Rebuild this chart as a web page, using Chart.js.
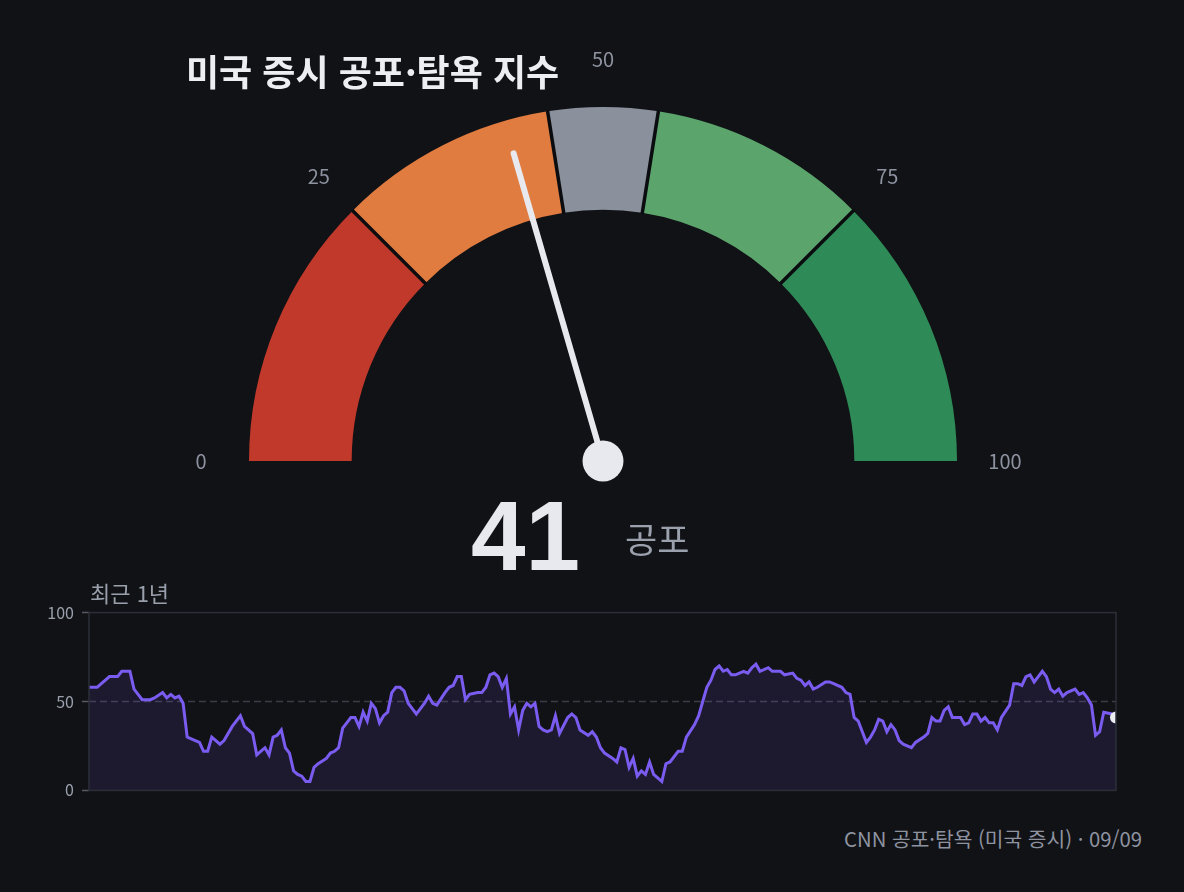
<!DOCTYPE html>
<html lang="ko">
<head>
<meta charset="utf-8">
<title>미국 증시 공포·탐욕 지수</title>
<script src="https://cdn.jsdelivr.net/npm/chart.js"></script>
<style>
  html, body { margin: 0; padding: 0; background: #111216; }
  body { width: 1184px; height: 892px; position: relative; overflow: hidden;
         font-family: "Noto Sans CJK KR", "Noto Sans", sans-serif; }
  .abs { position: absolute; white-space: nowrap; }
  #title { left: 186px; top: 50px; font-size: 36px; font-weight: 700; color: #eceef2; line-height: 40px; }
  #score { left: 471px; top: 487px; font-family: "Liberation Sans", Arial, sans-serif; font-size: 98px; font-weight: 700; color: #e8e9ee; line-height: 98px; }
  #mood { left: 625px; top: 519px; font-size: 35px; color: #9aa0ac; line-height: 38px; }
  #recent { left: 90px; top: 578px; font-size: 22px; color: #9aa0ab; line-height: 28px; }
  #source { right: 42px; top: 825px; font-size: 20.3px; color: #8e93a0; line-height: 26px; }
  #gaugeBox { left: 183px; top: 40px; width: 840px; height: 460px; }
  #historyBox { left: 0; top: 595px; width: 1184px; height: 213px; }
</style>
</head>
<body>

<div id="gaugeBox" class="abs"><canvas id="gauge"></canvas></div>
<div id="historyBox" class="abs"><canvas id="history"></canvas></div>

<div id="title" class="abs">미국 증시 공포·탐욕 지수</div>
<div id="score" class="abs"></div>
<div id="mood" class="abs"></div>
<div id="recent" class="abs">최근 1년</div>
<div id="source" class="abs">CNN 공포·탐욕 (미국 증시) · 09/09</div>

<script>
// gauge bands (edges on the 0-100 scale) and their names
const bandEdges = [0, 25, 45, 55, 75, 100];
const bandNames = ['극단적 공포', '공포', '중립', '탐욕', '극단적 탐욕'];
const gaugeTicks = [0, 25, 50, 75, 100];
const currentValue = 41;

// last year, trading-day index -> index value
const historyDays = [
  0, 2, 3, 4, 5, 7, 8, 10, 11, 12, 13, 15, 16, 18, 19, 20, 21, 22, 23, 24,
  25, 27, 28, 29, 30, 31, 32, 33, 35, 37, 38, 40, 41, 43, 44, 45, 46, 47, 48, 49,
  50, 51, 52, 53, 54, 55, 56, 58, 59, 60, 61, 62, 63, 64, 65, 66, 67, 68, 69, 70,
  71, 72, 73, 74, 75, 76, 77, 78, 79, 80, 81, 82, 83, 84, 85, 87, 88, 89, 90, 91,
  92, 93, 95, 96, 97, 98, 99, 100, 101, 102, 103, 104, 105, 106, 107, 108, 109, 110, 111, 112,
  113, 114, 115, 117, 118, 119, 120, 122, 123, 124, 125, 126, 128, 129, 130, 131, 132, 133, 134, 135,
  136, 137, 138, 139, 140, 141, 142, 143, 144, 145, 146, 148, 149, 150, 151, 152, 153, 154, 155, 156,
  157, 158, 160, 161, 162, 163, 164, 166, 167, 169, 170, 172, 173, 174, 175, 176, 177, 178, 180, 181,
  182, 184, 185, 186, 187, 188, 189, 190, 191, 192, 193, 194, 195, 196, 197, 198, 199, 201, 202, 204,
  205, 206, 207, 208, 209, 210, 211, 213, 214, 215, 216, 217, 218, 219, 220, 221, 222, 223, 225, 226,
  227, 228, 229, 230, 231, 232, 233, 234, 235, 236, 237, 238, 239, 241, 242, 243, 244, 245, 246, 247,
  248, 250, 251
];
const historyValues = [
  58, 58, 60, 62, 64, 64, 67, 67, 57, 54, 51, 51, 52, 55, 52, 54, 52, 53, 49, 30,
  29, 27, 22, 22, 30, 28, 26, 28, 36, 42, 36, 32, 20, 24, 20, 30, 31, 34, 24, 21,
  11, 9, 8, 5, 5, 13, 15, 18, 21, 22, 24, 35, 38, 41, 41, 36, 44, 39, 49, 46,
  38, 42, 44, 55, 58, 58, 56, 49, 46, 43, 46, 49, 53, 49, 48, 55, 58, 59, 64, 64,
  51, 54, 55, 55, 58, 65, 66, 64, 58, 63, 43, 47, 34, 45, 49, 47, 49, 36, 34, 33,
  34, 42, 32, 41, 43, 41, 34, 31, 33, 30, 24, 21, 18, 16, 24, 23, 13, 18, 8, 11,
  9, 16, 9, 7, 5, 15, 16, 19, 22, 22, 30, 37, 42, 50, 58, 62, 68, 70, 67, 68,
  65, 65, 67, 66, 69, 71, 67, 69, 67, 67, 65, 66, 63, 62, 59, 61, 57, 58, 61, 61,
  60, 58, 55, 54, 41, 39, 33, 27, 30, 34, 40, 39, 33, 37, 34, 28, 26, 24, 27, 30,
  32, 41, 39, 39, 45, 47, 41, 41, 37, 38, 43, 43, 39, 41, 38, 38, 34, 41, 48, 60,
  60, 59, 64, 65, 61, 64, 67, 64, 57, 55, 57, 53, 55, 57, 54, 55, 52, 48, 31, 33,
  44, 43, 41
];

function moodFor(v) {
  for (let i = 0; i < bandNames.length; i++) {
    if (v < bandEdges[i + 1]) return bandNames[i];
  }
  return bandNames[bandNames.length - 1];
}

document.getElementById('score').textContent = currentValue;
document.getElementById('mood').textContent = moodFor(currentValue);

const bandColors = ['#c0392b', '#e17c40', '#8a909c', '#5ba56c', '#2e8b57'];
const bandSizes = bandNames.map((_, i) => bandEdges[i + 1] - bandEdges[i]);

// separators between bands, needle, hub and the 0/25/50/75/100 labels
const gaugeDecor = {
  id: 'gaugeDecor',
  afterDatasetsDraw(chart) {
    const arc = chart.getDatasetMeta(0).data[0];
    if (!arc) return;
    const ctx = chart.ctx;
    const cx = arc.x, cy = arc.y, r = arc.outerRadius, ri = arc.innerRadius;
    const ang = v => Math.PI + v / 100 * Math.PI;

    ctx.save();
    ctx.strokeStyle = '#0b0c0f';
    ctx.lineWidth = 3.5;
    bandEdges.slice(1, -1).forEach(v => {
      const a = ang(v);
      ctx.beginPath();
      ctx.moveTo(cx + (ri - 1) * Math.cos(a), cy + (ri - 1) * Math.sin(a));
      ctx.lineTo(cx + (r + 1) * Math.cos(a), cy + (r + 1) * Math.sin(a));
      ctx.stroke();
    });

    ctx.fillStyle = '#8e93a0';
    ctx.font = '20px "Noto Sans CJK KR", "Noto Sans", sans-serif';
    ctx.textAlign = 'center';
    ctx.textBaseline = 'middle';
    gaugeTicks.forEach(t => {
      const a = ang(t);
      ctx.fillText(String(t), cx + (r + 48) * Math.cos(a), cy + (r + 48) * Math.sin(a));
    });

    const a = ang(currentValue);
    const len = r * 0.905;
    ctx.strokeStyle = '#e8e9ee';
    ctx.lineWidth = 6;
    ctx.lineCap = 'round';
    ctx.beginPath();
    ctx.moveTo(cx, cy);
    ctx.lineTo(cx + len * Math.cos(a), cy + len * Math.sin(a));
    ctx.stroke();

    ctx.fillStyle = '#e8e9ee';
    ctx.beginPath();
    ctx.arc(cx, cy, 20.5, 0, Math.PI * 2);
    ctx.fill();
    ctx.restore();
  }
};

new Chart(document.getElementById('gauge'), {
  type: 'doughnut',
  data: {
    labels: bandNames,
    datasets: [{
      data: bandSizes,
      backgroundColor: bandColors,
      borderWidth: 0
    }]
  },
  options: {
    responsive: true,
    maintainAspectRatio: false,
    animation: false,
    rotation: -90,
    circumference: 180,
    cutout: '71%',
    layout: { padding: { left: 66, right: 66, top: 67, bottom: 39 } },
    plugins: { legend: { display: false }, tooltip: { enabled: false } }
  },
  plugins: [gaugeDecor]
});

// frame round the plot and the dashed 50 line
const plotFrame = {
  id: 'plotFrame',
  beforeDatasetsDraw(chart) {
    const { ctx, chartArea } = chart;
    const y50 = chart.scales.y.getPixelForValue(50);
    ctx.save();
    ctx.strokeStyle = '#3a3d47';
    ctx.lineWidth = 1.5;
    ctx.setLineDash([7, 4]);
    ctx.beginPath();
    ctx.moveTo(chartArea.left, y50);
    ctx.lineTo(chartArea.right, y50);
    ctx.stroke();
    ctx.restore();
  },
  afterDatasetsDraw(chart) {
    const { ctx, chartArea } = chart;
    ctx.save();
    ctx.strokeStyle = '#2c2f3a';
    ctx.lineWidth = 1.5;
    ctx.strokeRect(chartArea.left, chartArea.top, chartArea.right - chartArea.left, chartArea.bottom - chartArea.top);
    ctx.restore();
  }
};

const lastIdx = historyValues.length - 1;

new Chart(document.getElementById('history'), {
  type: 'line',
  data: {
    datasets: [{
      data: historyDays.map((d, i) => ({ x: d, y: historyValues[i] })),
      borderColor: '#7b5cf0',
      borderWidth: 3,
      backgroundColor: 'rgba(123, 92, 240, 0.12)',
      fill: 'origin',
      tension: 0,
      pointRadius: ctx => ctx.dataIndex === lastIdx ? 6 : 0,
      pointBackgroundColor: '#eceef2',
      pointBorderWidth: 0
    }]
  },
  options: {
    responsive: true,
    maintainAspectRatio: false,
    animation: false,
    layout: { padding: { left: 0, right: 68, top: 0, bottom: 0 } },
    plugins: { legend: { display: false }, tooltip: { enabled: false } },
    scales: {
      x: { type: 'linear', min: 0, max: 251, display: false },
      y: {
        min: 0, max: 100,
        afterFit(scale) { scale.width = 89; },
        ticks: {
          stepSize: 50, color: '#9aa0ab', padding: 8,
          font: { family: '"Noto Sans CJK KR", "Noto Sans", sans-serif', size: 16 }
        },
        grid: { drawOnChartArea: false, tickLength: 7, tickColor: '#555965', tickWidth: 1.5 },
        border: { display: false }
      }
    }
  },
  plugins: [plotFrame]
});
</script>
</body>
</html>
